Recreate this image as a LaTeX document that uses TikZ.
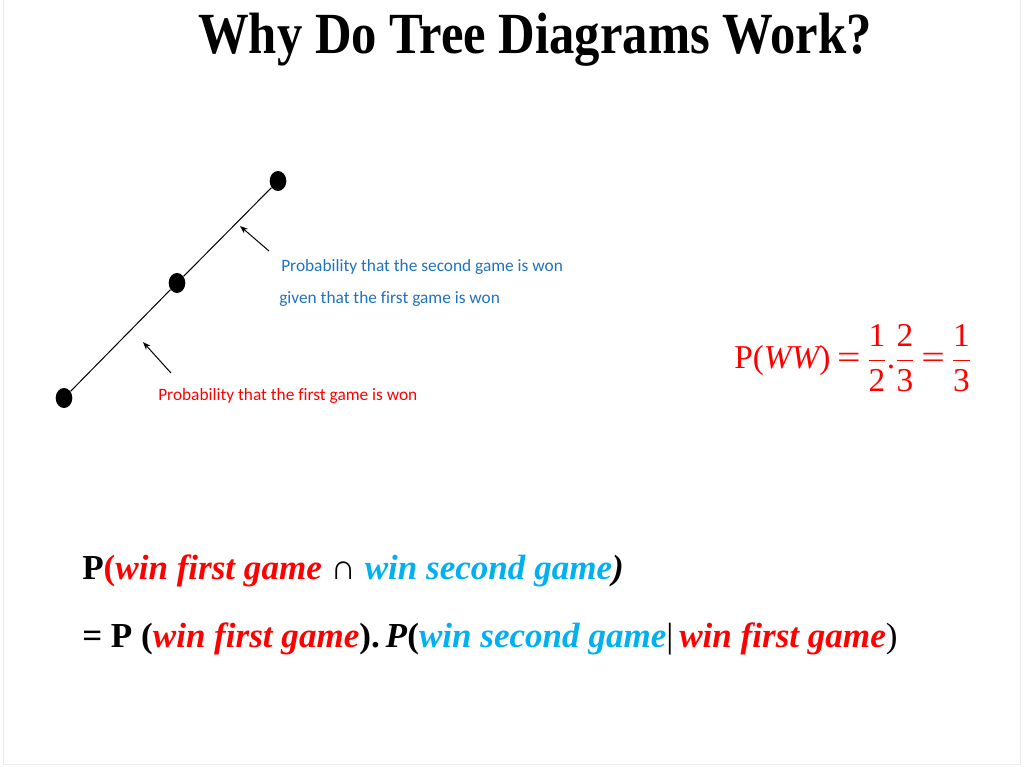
\documentclass[tikz,border=0pt]{standalone}
\usepackage{amsmath}
\usepackage{fontspec}
\usepackage{graphicx}
\setmainfont[Ligatures={TeX,NoCommon}]{Liberation Serif}
\newfontfamily\calibrifont[Ligatures=NoCommon]{Carlito}
\usetikzlibrary{shapes.geometric,arrows.meta}
\definecolor{offred}{HTML}{FF0000}
\definecolor{offblue}{HTML}{1F72BF}
\definecolor{offcyan}{HTML}{00B0F0}
\begin{document}
\begin{tikzpicture}[x=0.75pt,y=-0.75pt,
  dotnode/.style={ellipse,fill=black,draw=none,inner sep=0pt,minimum width=12.5pt,minimum height=15pt},
  branch/.style={line width=0.75pt,black},
  pointer/.style={line width=0.75pt,black,-{Stealth[length=6pt,width=4.5pt]}},
  note/.style={inner sep=0pt,anchor=base west,font=\calibrifont\fontsize{13}{15}\selectfont},
  eqline/.style={inner sep=0pt,anchor=base west,font=\bfseries\fontsize{26.3}{30}\selectfont},
  frame/.style={black!8,line width=0.75pt}]
\useasboundingbox (0,0) rectangle (1024,767);
\draw[frame] (3,0) -- (3,764) -- (1020,764) -- (1020,0);
% title
\node[inner sep=0pt,anchor=base] (title) at (535,54)
  {\scalebox{1}[1.15]{\fontsize{38}{40}\selectfont\bfseries Why Do Tree Diagrams Work?}};
% tree
\node[dotnode] (d1) at (64,398) {};
\node[dotnode] (d2) at (177,283) {};
\node[dotnode] (d3) at (278,181) {};
\draw[branch] (d1) -- (d2) -- (d3);
% arrows
\coordinate (a1s) at (171,373);
\coordinate (a1e) at (143,342);
\coordinate (a2s) at (269,251);
\coordinate (a2e) at (240,226);
\draw[pointer] (a1s) -- (a1e);
\draw[pointer] (a2s) -- (a2e);
% notes
\node[note,text=offblue] (n1) at (281,271) {Probability that the second game is won};
\node[note,text=offblue] (n2) at (279,303) {given that the first game is won};
\node[note,text=offred] (n3) at (158,400) {Probability that the first game is won};
% P(WW)
\node[inner sep=0pt,anchor=west,text=offred,font=\fontsize{25}{27}\selectfont] (pww) at (734,358)
  {$\text{P(}\textit{WW}\text{)}\mskip3.5mu\scalebox{1.25}[1]{\text{=}}\mskip3.5mu\dfrac{\text{1}}{\text{2}}\text{.}\dfrac{\text{2}}{\text{3}}\mskip3.5mu\scalebox{1.25}[1]{\text{=}}\mskip3.5mu\dfrac{\text{1}}{\text{3}}$};
% bottom equations
\node[eqline] (e1) at (82,579)
  {P\textcolor{offred}{(\itshape win first game} \textmd{∩} \textcolor{offcyan}{\itshape win second game}\textit{)}};
\node[eqline] (e2) at (82,647)
  {= P (\textcolor{offred}{\itshape win first game}).\,\textit{P}(\textcolor{offcyan}{\itshape win second game}\textmd{|}\,\textcolor{offred}{\itshape win first game}\textmd{)}};
\end{tikzpicture}
\end{document}
